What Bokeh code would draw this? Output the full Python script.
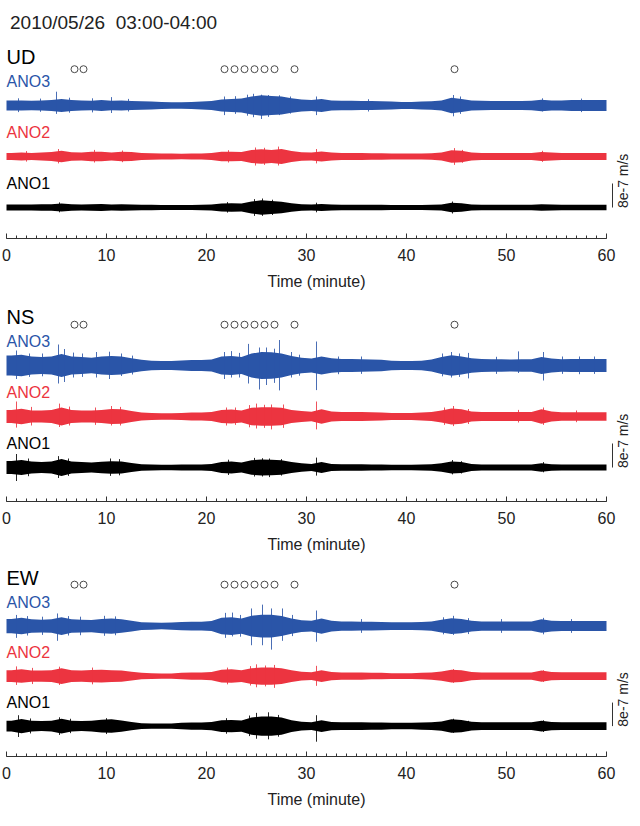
import numpy as np
from bokeh.plotting import figure
from bokeh.layouts import column
from bokeh.models import Range1d, Label, FixedTicker
from bokeh.embed import file_html
from bokeh.resources import INLINE

# ---------------- data (amplitudes in units of 1e-7 m/s) ----------------
TITLE = "2010/05/26\u00a0\u00a003:00-04:00"
COMPONENTS = ["UD", "NS", "EW"]
STATIONS = ["ANO3", "ANO2", "ANO1"]
STATION_OFFSET = [34, 17, 0]          # trace offsets (1e-7 m/s)
STATION_COLOR = ["#2a55a8", "#ec3440", "#000000"]
SCALE_VALUE = 8                        # 8e-7 m/s scale bar
SCALE_TEXT = "8e-7 m/s"
XTICKS = [0, 10, 20, 30, 40, 50, 60]
MINOR_TICKS = list(range(61))
EVENT_TIMES = [6.8, 7.7, 21.8, 22.8, 23.8, 24.8, 25.8, 26.8, 28.8, 44.8]

# envelope half-amplitude per minute bin (0-1, 1-2, ..., 59-60)
ENV = {
 ("UD", "ANO3"): [1.7,1.7,1.6,1.7,1.8,2.2,1.8,1.7,1.6,1.8,1.6,1.7,1.5,1.4,1.3,1.2,1.1,1.1,1.2,1.3,
                  1.5,2.0,2.2,2.3,3.0,3.4,3.2,3.0,2.4,2.0,1.8,2.2,1.7,1.6,1.6,1.5,1.5,1.4,1.3,1.2,
                  1.2,1.3,1.4,1.7,2.6,2.2,1.7,1.6,1.5,1.5,1.5,1.5,1.6,1.9,1.7,1.7,1.8,1.8,1.8,1.8],
 ("UD", "ANO2"): [1.2,1.3,1.2,1.3,1.5,1.9,1.4,1.3,1.6,1.6,1.3,1.6,1.5,1.2,1.1,1.0,1.0,0.9,1.0,1.0,
                  1.2,1.6,1.6,1.5,2.2,2.4,2.2,2.5,1.8,1.4,1.3,1.7,1.3,1.2,1.2,1.2,1.1,1.1,1.0,1.0,
                  1.0,1.0,1.1,1.3,2.1,1.9,1.3,1.2,1.2,1.2,1.2,1.2,1.2,1.5,1.3,1.2,1.2,1.2,1.2,1.2],
 ("UD", "ANO1"): [1.0,1.0,1.0,1.1,1.1,1.3,1.1,1.0,1.1,1.2,1.0,1.1,1.0,0.9,0.9,0.8,0.8,0.8,0.8,0.9,
                  1.0,1.3,1.4,1.3,2.0,2.4,2.2,1.9,1.4,1.1,1.0,1.2,1.0,0.9,0.9,0.9,0.9,0.9,0.8,0.8,
                  0.8,0.8,0.9,1.0,1.6,1.4,1.0,0.9,0.9,0.9,0.9,0.9,0.9,1.1,1.0,0.9,0.9,0.9,0.9,0.9],
 ("NS", "ANO3"): [3.3,3.6,3.0,2.8,3.0,3.8,3.0,2.8,2.6,3.0,3.2,3.0,2.4,1.9,1.6,1.5,1.5,1.7,1.8,1.8,
                  2.0,3.0,3.2,2.8,4.0,4.5,4.4,4.0,3.2,2.6,2.3,3.0,2.4,2.2,2.2,2.1,2.0,1.9,1.6,1.5,
                  1.5,1.6,2.0,2.8,3.4,3.0,2.4,2.2,2.1,2.1,2.0,2.1,2.1,2.8,2.3,2.1,2.2,2.2,2.2,2.2],
 ("NS", "ANO2"): [2.2,2.6,2.0,2.0,2.2,3.0,2.2,2.0,2.0,2.2,2.5,2.4,1.8,1.3,1.2,1.1,1.1,1.2,1.3,1.3,
                  1.5,2.2,2.3,2.0,2.9,3.1,3.1,2.9,2.2,1.8,1.6,2.4,1.7,1.5,1.5,1.5,1.4,1.3,1.2,1.2,
                  1.2,1.3,1.5,2.0,2.7,2.4,1.7,1.5,1.5,1.5,1.5,1.5,1.5,2.4,1.7,1.4,1.4,1.4,1.4,1.4],
 ("NS", "ANO1"): [2.2,2.5,2.0,1.8,2.0,2.8,2.0,1.8,1.7,1.9,2.1,2.0,1.5,1.1,1.0,0.9,0.9,1.0,1.0,1.0,
                  1.2,1.8,2.0,1.7,2.4,2.7,2.6,2.4,1.8,1.4,1.2,1.8,1.2,1.1,1.1,1.1,1.0,1.0,0.9,0.9,
                  0.9,1.0,1.1,1.4,2.0,1.8,1.2,1.0,1.0,1.0,1.0,1.0,1.0,1.4,1.1,1.0,1.0,1.0,1.0,1.0],
 ("EW", "ANO3"): [2.4,2.8,2.3,2.2,2.3,3.0,2.3,2.2,2.1,2.4,2.6,2.3,1.8,1.3,1.2,1.1,1.2,1.4,1.5,1.5,
                  1.7,2.8,3.0,2.6,3.5,3.9,3.9,3.4,2.6,2.0,1.8,2.6,1.8,1.6,1.6,1.5,1.5,1.4,1.3,1.3,
                  1.3,1.4,1.6,2.2,2.7,2.4,1.8,1.6,1.6,1.6,1.6,1.6,1.6,2.3,1.8,1.7,1.7,1.7,1.7,1.7],
 ("EW", "ANO2"): [2.0,2.3,1.9,1.9,2.0,2.7,2.0,1.9,2.1,2.2,2.0,1.9,1.5,1.1,1.0,0.9,0.9,1.1,1.2,1.2,
                  1.4,2.2,2.3,2.0,2.7,2.9,2.9,2.7,2.0,1.5,1.3,2.0,1.4,1.2,1.2,1.2,1.1,1.1,1.0,1.0,
                  1.0,1.1,1.2,1.6,2.2,2.0,1.4,1.2,1.2,1.2,1.2,1.2,1.2,1.9,1.4,1.3,1.3,1.3,1.3,1.3],
 ("EW", "ANO1"): [1.8,2.4,1.8,1.7,1.8,2.5,1.8,1.7,1.8,2.2,2.3,1.9,1.4,1.0,0.9,0.9,0.9,1.1,1.2,1.2,
                  1.4,2.0,2.1,1.9,2.9,3.3,3.3,2.9,2.0,1.5,1.3,2.0,1.4,1.3,1.3,1.3,1.2,1.2,1.1,1.1,
                  1.1,1.2,1.3,1.6,2.3,2.1,1.5,1.3,1.3,1.3,1.3,1.3,1.3,1.8,1.4,1.3,1.3,1.3,1.3,1.3],
}

# isolated large excursions: (minute, peak up, peak down)
SPIKES = {
 ("UD", "ANO3"): [(1.2,2.4,2.2),(3.4,2.3,2.1),(5.0,4.6,2.8),(6.3,2.6,2.4),(8.6,2.4,2.3),(10.5,2.8,2.5),
                  (12.2,2.2,2.0),(21.8,3.0,3.2),(22.9,3.1,2.8),(24.1,3.6,3.4),(24.7,3.9,3.9),
                  (25.5,3.6,4.5),(26.2,3.5,3.8),(27.3,3.4,3.2),(28.4,3.0,2.7),(31.0,3.0,3.2),
                  (36.2,2.1,2.0),(44.7,3.5,3.6),(45.4,3.0,2.8),(53.6,2.4,2.0),(57.5,2.3,2.2)],
 ("UD", "ANO2"): [(2.0,1.8,1.7),(5.2,2.5,2.3),(8.8,2.2,2.0),(11.6,2.0,1.9),(22.2,2.1,2.0),
                  (24.9,3.0,3.0),(25.8,2.9,2.8),(27.2,3.3,3.0),(31.0,2.5,2.3),(44.8,2.8,2.8),
                  (45.6,2.2,2.1),(53.6,1.9,1.8)],
 ("UD", "ANO1"): [(5.3,1.7,1.6),(22.1,1.8,1.7),(24.8,2.8,2.8),(25.6,3.0,2.8),(26.6,2.6,2.5),
                  (31.0,1.6,1.6),(44.6,2.0,2.0)],
 ("NS", "ANO3"): [(1.0,5.0,4.5),(2.3,4.0,3.8),(3.6,4.0,3.6),(5.2,7.0,6.0),(5.8,5.5,5.5),(6.7,4.3,4.0),
                  (7.6,4.0,3.8),(9.0,4.5,4.0),(10.3,4.6,4.5),(11.5,4.0,3.5),(12.6,3.3,3.0),
                  (21.8,4.5,4.5),(22.5,4.8,4.0),(23.3,4.2,4.0),(24.2,7.2,6.0),(25.3,6.0,8.0),
                  (26.0,6.0,6.5),(26.8,5.6,5.8),(27.3,8.5,8.3),(28.5,4.5,4.0),(29.3,3.6,3.4),
                  (31.0,8.0,8.2),(33.2,3.0,2.9),(35.5,3.0,2.8),(43.6,4.0,3.6),(44.5,4.5,4.0),
                  (45.3,4.0,3.8),(46.2,4.2,4.3),(49.0,2.9,2.8),(51.2,4.7,2.5),(53.7,4.5,5.0),
                  (55.6,3.0,2.8),(57.3,3.0,2.9),(58.8,3.0,2.8)],
 ("NS", "ANO2"): [(1.0,5.0,3.7),(2.5,3.2,3.0),(5.3,4.3,3.5),(6.3,3.3,3.0),(8.9,3.0,2.8),(10.5,3.5,3.0),
                  (11.4,3.2,3.0),(22.0,3.0,3.0),(22.9,3.0,2.8),(24.3,3.8,3.6),(25.0,4.3,4.0),
                  (25.8,3.9,3.8),(26.5,4.0,4.3),(27.7,4.0,3.8),(31.0,5.0,4.3),(43.8,3.0,2.8),
                  (44.7,3.5,3.2),(46.2,2.5,2.5),(51.2,2.2,2.0),(53.7,3.0,2.8),(57.0,2.0,1.9)],
 ("NS", "ANO1"): [(1.0,4.5,4.5),(2.2,3.0,2.9),(5.2,3.8,3.5),(6.2,3.0,2.8),(10.4,3.0,2.8),(11.3,2.8,2.6),
                  (22.2,2.6,2.5),(24.8,3.2,3.0),(25.6,3.1,3.0),(26.3,3.0,3.2),(27.5,2.8,2.7),
                  (31.0,3.3,2.7),(44.6,2.5,2.3),(45.5,2.1,2.0),(53.7,1.8,1.6)],
 ("EW", "ANO3"): [(1.0,3.8,4.0),(2.1,3.4,3.2),(3.6,3.2,3.0),(5.1,4.3,5.0),(6.2,3.4,3.2),(7.4,3.2,3.1),
                  (9.8,3.5,3.3),(10.9,3.3,3.1),(21.9,4.5,4.0),(22.6,4.6,3.5),(23.4,3.8,3.6),
                  (24.5,6.0,6.5),(25.6,7.3,6.5),(26.5,6.0,8.0),(27.6,6.0,5.0),(28.6,3.8,3.4),
                  (31.0,5.3,5.3),(35.5,2.4,2.3),(43.7,3.0,2.8),(44.7,3.5,3.0),(46.2,2.7,2.7),
                  (49.5,2.4,2.3),(53.7,2.8,2.8),(56.5,2.4,2.3)],
 ("EW", "ANO2"): [(1.0,3.3,3.0),(2.6,2.8,2.7),(5.3,3.2,3.0),(8.6,2.9,2.8),(22.1,2.9,2.8),(24.4,3.4,3.2),
                  (25.0,4.0,3.8),(25.9,3.6,3.5),(26.8,3.8,4.0),(31.0,3.5,3.3),(44.7,2.4,2.3),
                  (53.7,2.0,2.0)],
 ("EW", "ANO1"): [(1.2,3.7,3.7),(2.4,2.6,2.5),(5.3,3.0,3.0),(6.4,2.5,2.4),(10.0,2.7,2.7),(22.0,2.7,2.6),
                  (24.3,3.6,3.4),(25.0,4.5,4.3),(26.2,4.7,4.5),(27.2,3.8,3.6),(31.0,3.7,5.3),
                  (44.7,2.5,2.3),(46.2,1.8,1.7),(53.7,2.0,2.0)],
}

# ---------------- layout (pixels) ----------------
FONT = "Liberation Sans"
W = 632
PX_PER_UNIT = 3.0
X_START, X_END = -0.6, 62.6
# per panel: figure height, bottom border, px of ANO1 baseline above axis, event-marker y
PANELS = [
    dict(h=292, bb=54, base=31, ev=46.1, title=True),
    dict(h=264, bb=55, base=34, ev=47.6, title=False),
    dict(h=254, bb=50, base=31, ev=48.1, title=False),
]
LABEL_Y = 50.3
STATION_LABEL_DY = 8.0

bins = np.arange(60) + 0.5
xs = np.concatenate([[0.0], bins, [60.0]])

figs = []
for comp, cfg in zip(COMPONENTS, PANELS):
    frame_h = cfg["h"] - cfg["bb"]
    y0 = -cfg["base"] / PX_PER_UNIT
    y1 = y0 + frame_h / PX_PER_UNIT
    p = figure(width=W, height=cfg["h"], output_backend="svg", toolbar_location=None,
               x_range=Range1d(X_START, X_END), y_range=Range1d(y0, y1),
               y_axis_location=None, min_border_left=0, min_border_right=0,
               min_border_top=0, min_border_bottom=cfg["bb"])
    p.outline_line_color = None
    p.xgrid.visible = False
    p.ygrid.visible = False
    p.background_fill_color = "white"

    for st, off, col in zip(STATIONS, STATION_OFFSET, STATION_COLOR):
        env = np.array(ENV[(comp, st)])
        e = np.concatenate([[env[0]], env, [env[-1]]])
        p.varea(x=xs, y1=off - e, y2=off + e, fill_color=col, fill_alpha=1.0)
        sp = SPIKES[(comp, st)]
        t = [s[0] for s in sp]
        up = [off + s[1] for s in sp]
        dn = [off - s[2] for s in sp]
        p.segment(x0=t, y0=dn, x1=t, y1=up, line_color=col, line_width=1, line_alpha=0.85)
        p.add_layout(Label(x=0.0, y=off + STATION_LABEL_DY, text=st, text_color=col,
                           text_font=FONT, text_font_size="16px",
                           text_align="left", text_baseline="middle"))

    p.scatter(x=EVENT_TIMES, y=[cfg["ev"]] * len(EVENT_TIMES), marker="circle", size=7,
              fill_color=None, line_color="#4a4a4a", line_width=1)
    p.add_layout(Label(x=0.0, y=LABEL_Y, text=comp, text_color="black", text_font=FONT,
                       text_font_size="20px", text_align="left", text_baseline="middle"))
    if cfg["title"]:
        p.add_layout(Label(x=0.35, y=61.8, text=TITLE, text_color="#222222", text_font=FONT,
                           text_font_size="19px", text_align="left", text_baseline="middle"))

    # scale bar
    p.segment(x0=[60.6], y0=[0], x1=[60.6], y1=[SCALE_VALUE], line_color="#333333", line_width=1)
    p.add_layout(Label(x=61.65, y=-0.2, text=SCALE_TEXT, angle=np.pi / 2, text_color="#222222",
                       text_font=FONT, text_font_size="14px",
                       text_align="left", text_baseline="middle"))

    ax = p.xaxis[0]
    ax.bounds = (0, 60)
    ax.ticker = FixedTicker(ticks=XTICKS, minor_ticks=MINOR_TICKS)
    ax.axis_label = "Time (minute)"
    ax.axis_label_text_font = FONT
    ax.axis_label_text_font_style = "normal"
    ax.axis_label_text_font_size = "16px"
    ax.axis_label_text_color = "#222222"
    ax.axis_label_standoff = 9
    ax.major_label_text_font = FONT
    ax.major_label_text_font_size = "16px"
    ax.major_label_text_color = "#222222"
    ax.major_label_standoff = 10
    ax.axis_line_color = "#333333"
    ax.axis_line_width = 1.2
    ax.major_tick_line_color = "#333333"
    ax.minor_tick_line_color = "#333333"
    ax.major_tick_in = 5
    ax.major_tick_out = 0
    ax.minor_tick_in = 3
    ax.minor_tick_out = 0
    figs.append(p)

layout = column(*figs, spacing=0)
open("out.html", "w").write(file_html(layout, INLINE))
